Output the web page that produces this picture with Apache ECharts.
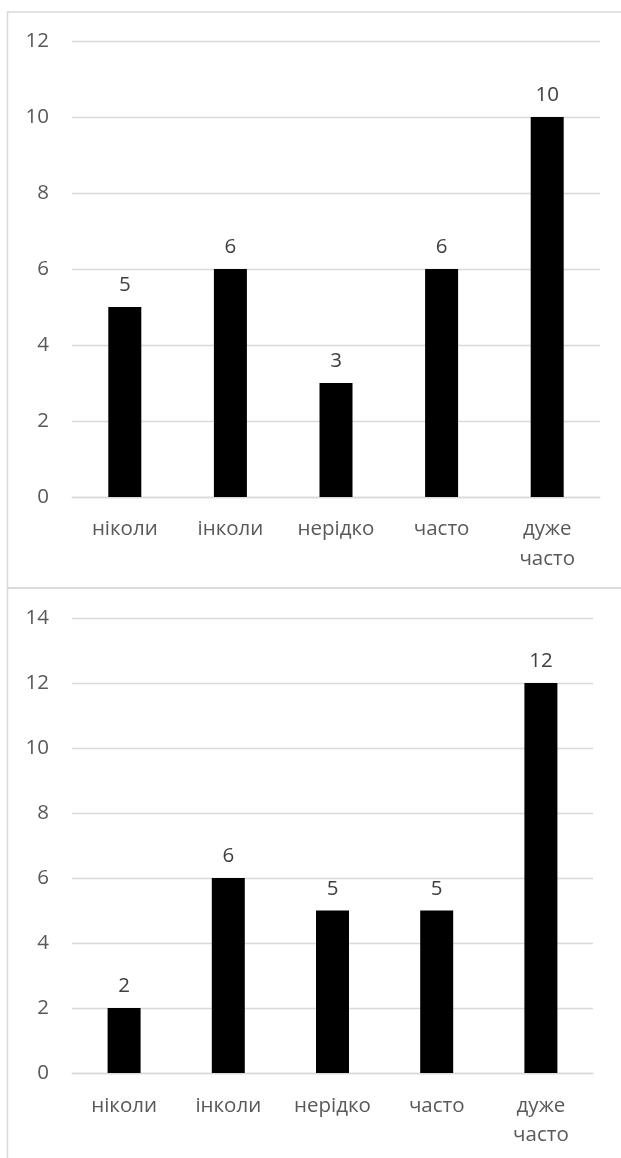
<!DOCTYPE html>
<html>
<head>
<meta charset="utf-8">
<script src="https://cdn.jsdelivr.net/npm/echarts@6/dist/echarts.min.js"></script>
<style>
  html, body { margin: 0; padding: 0; background: #ffffff; }
  #chart { width: 621px; height: 1158px; }
</style>
</head>
<body>
<div id="chart"></div>
<script>
// Answer categories shared by both charts
const categories = ['ніколи', 'інколи', 'нерідко', 'часто', 'дуже\nчасто'];
// Counts per answer, upper chart
const countsTop = [5, 6, 3, 6, 10];
// Counts per answer, lower chart
const countsBottom = [2, 6, 5, 5, 12];
// Value-axis ranges
const axisTop = { min: 0, max: 12, interval: 2 };
const axisBottom = { min: 0, max: 14, interval: 2 };

const FONT = '"Open Sans", "Noto Sans", sans-serif';
const FONT_SIZE = 20.5;
const AXIS_GREY = '#595959';
const LINE_GREY = '#d9d9d9';

const chart = echarts.init(document.getElementById('chart'), null, { renderer: 'canvas' });

function catAxis(gridIndex, margin, lineHeight) {
  return {
    type: 'category',
    gridIndex: gridIndex,
    data: categories,
    axisTick: { show: false },
    axisLine: { show: true, lineStyle: { color: LINE_GREY, width: 1.3 } },
    axisLabel: {
      interval: 0,
      margin: margin,
      color: AXIS_GREY,
      fontFamily: FONT,
      fontSize: FONT_SIZE,
      lineHeight: lineHeight
    }
  };
}

function valAxis(gridIndex, range) {
  return {
    type: 'value',
    gridIndex: gridIndex,
    min: range.min,
    max: range.max,
    interval: range.interval,
    axisLine: { show: false },
    axisTick: { show: false },
    splitLine: { lineStyle: { color: LINE_GREY, width: 1.3 } },
    axisLabel: {
      margin: 23,
      color: AXIS_GREY,
      fontFamily: FONT,
      fontSize: FONT_SIZE
    }
  };
}

function barSeries(index, values) {
  return {
    type: 'bar',
    xAxisIndex: index,
    yAxisIndex: index,
    data: values,
    barWidth: 33,
    itemStyle: { color: '#000000' },
    label: {
      show: true,
      position: 'top',
      distance: 11,
      color: '#404040',
      fontFamily: FONT,
      fontSize: FONT_SIZE
    }
  };
}

chart.setOption({
  animation: false,
  backgroundColor: '#ffffff',
  grid: [
    { left: 72, right: 21, top: 41, height: 456 },
    { left: 72, right: 28, top: 618, height: 455 }
  ],
  xAxis: [catAxis(0, 17, 30), catAxis(1, 19, 29)],
  yAxis: [valAxis(0, axisTop), valAxis(1, axisBottom)],
  series: [barSeries(0, countsTop), barSeries(1, countsBottom)],
  graphic: [
    // frame of the upper chart
    {
      type: 'rect',
      shape: { x: 7.5, y: 12, width: 640, height: 576 },
      style: { fill: 'none', stroke: '#d9d9d9', lineWidth: 1.5 },
      silent: true
    },
    // frame of the lower chart
    {
      type: 'rect',
      shape: { x: 7.5, y: 588, width: 640, height: 600 },
      style: { fill: 'none', stroke: '#d9d9d9', lineWidth: 1.5 },
      silent: true
    }
  ]
});
</script>
</body>
</html>
